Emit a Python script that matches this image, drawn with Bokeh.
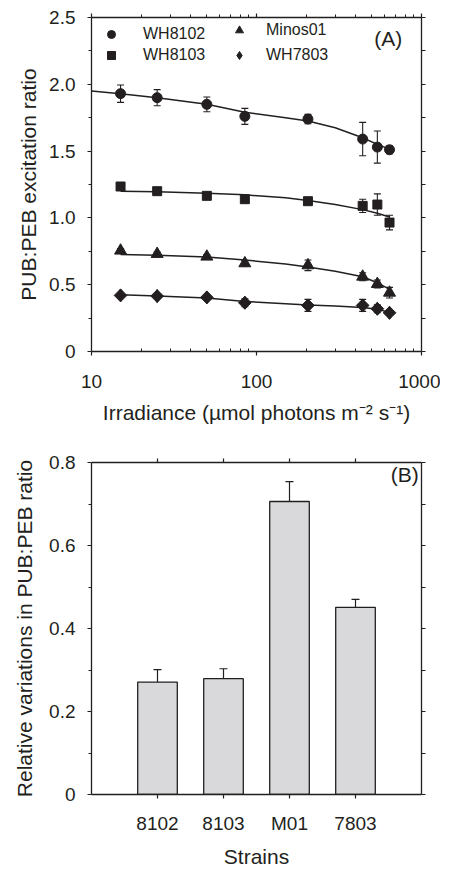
import math
from bokeh.plotting import figure
from bokeh.models import (ColumnDataSource, Whisker, TeeHead, FixedTicker, LinearAxis, LogAxis,
                          CategoricalAxis, CustomJSTickFormatter, Legend, LegendItem, Label,
                          FactorRange, Range1d)
from bokeh.layouts import column
from bokeh.embed import file_html
from bokeh.resources import INLINE

FONT = "Liberation Sans"
INK = "#231f20"

# ---------------- Panel A data ----------------
irradiance = [15, 25, 50, 85, 205, 440, 540, 640]
wh8102 = [1.93, 1.90, 1.85, 1.76, 1.74, 1.59, 1.53, 1.51]
wh8102_err = [0.065, 0.06, 0.055, 0.06, 0.035, 0.125, 0.12, 0.03]
wh8103 = [1.235, 1.20, 1.165, 1.14, 1.125, 1.09, 1.10, 0.965]
wh8103_err = [0.015, 0.015, 0.015, 0.02, 0.02, 0.05, 0.08, 0.055]
minos01 = [0.755, 0.73, 0.71, 0.66, 0.645, 0.56, 0.505, 0.44]
minos01_err = [0.015, 0.015, 0.015, 0.02, 0.04, 0.03, 0.03, 0.04]
wh7803 = [0.42, 0.415, 0.405, 0.365, 0.345, 0.345, 0.32, 0.29]
wh7803_err = [0.01, 0.01, 0.015, 0.03, 0.045, 0.045, 0.03, 0.015]

# fitted curves
fit8102_x = [10, 15, 25, 50, 85, 150, 205, 300, 440, 540, 640]
fit8102_y = [1.95, 1.93, 1.90, 1.85, 1.79, 1.75, 1.725, 1.675, 1.60, 1.55, 1.515]
fit_x = [15, 25, 50, 85, 150, 205, 300, 440, 540, 640]
fit8103_y = [1.20, 1.195, 1.185, 1.173, 1.15, 1.13, 1.10, 1.062, 1.035, 1.007]
fitminos_y = [0.726, 0.721, 0.707, 0.685, 0.655, 0.633, 0.60, 0.56, 0.515, 0.465]
fit7803_y = [0.425, 0.415, 0.40, 0.375, 0.358, 0.348, 0.34, 0.329, 0.316, 0.293]

x_major = [10, 100, 1000]
x_minor = [20, 30, 40, 50, 60, 70, 80, 90, 200, 300, 400, 500, 600, 700, 800, 900]
yA_major = [0, 0.5, 1.0, 1.5, 2.0, 2.5]
yA_minor = [0.25, 0.75, 1.25, 1.75, 2.25]

# ---------------- Panel B data ----------------
strains = ["8102", "8103", "M01", "7803"]
rel_var = [0.271, 0.279, 0.706, 0.451]
rel_var_err = [0.030, 0.024, 0.048, 0.019]
yB_major = [0, 0.2, 0.4, 0.6, 0.8]
yB_minor = [0.1, 0.3, 0.5, 0.7]

num_fmt = CustomJSTickFormatter(code="return tick == 0 ? '0' : tick.toFixed(1);")


def blank_fmt():
    return CustomJSTickFormatter(code="return '';")


def style_axis(ax, label_size="19px"):
    ax.axis_line_color = INK
    ax.axis_line_width = 1.3
    ax.major_tick_line_color = INK
    ax.minor_tick_line_color = INK
    ax.major_tick_line_width = 1.2
    ax.minor_tick_line_width = 1.0
    ax.major_label_text_font = FONT
    ax.major_label_text_font_size = label_size
    ax.major_label_text_color = INK
    ax.axis_label_text_font = FONT
    ax.axis_label_text_font_size = "21px"
    ax.axis_label_text_font_style = "normal"
    ax.axis_label_text_color = INK


# ================= Panel A =================
pA = figure(width=440, height=431, x_axis_type="log",
            x_range=Range1d(10, 1000), y_range=Range1d(0, 2.5),
            output_backend="svg", toolbar_location=None,
            min_border_left=86, min_border_right=19, min_border_top=17, min_border_bottom=80)
pA.grid.visible = False
pA.outline_line_color = None
pA.background_fill_color = "white"
pA.border_fill_color = "white"

xa = pA.xaxis[0]
xa.ticker = FixedTicker(ticks=x_major, minor_ticks=x_minor)
xa.formatter = CustomJSTickFormatter(code="return tick.toFixed(0);")
style_axis(xa)
xa.major_tick_out = 4
xa.major_tick_in = 0
xa.minor_tick_out = 0
xa.minor_tick_in = 3
xa.major_label_standoff = 19
xa.axis_label = "Irradiance (\u00b5mol photons m\u207b\u00b2 s\u207b\u00b9)"
xa.axis_label_standoff = 10

ya = pA.yaxis[0]
ya.ticker = FixedTicker(ticks=yA_major, minor_ticks=yA_minor)
ya.formatter = num_fmt
style_axis(ya)
ya.major_tick_out = 4
ya.major_tick_in = 0
ya.minor_tick_out = 3
ya.minor_tick_in = 0
ya.major_label_standoff = 12
ya.axis_label = "PUB:PEB excitation ratio"
ya.axis_label_standoff = 6

topA = LogAxis(ticker=FixedTicker(ticks=x_major, minor_ticks=x_minor), formatter=blank_fmt())
style_axis(topA, "1px")
topA.major_tick_out = 4
topA.major_tick_in = 0
topA.minor_tick_out = 3
topA.minor_tick_in = 0
topA.major_label_standoff = 0
pA.add_layout(topA, "above")

rightA = LinearAxis(ticker=FixedTicker(ticks=yA_major + yA_minor), formatter=blank_fmt())
style_axis(rightA, "1px")
rightA.major_tick_out = 4
rightA.major_tick_in = 0
rightA.major_label_standoff = 0
pA.add_layout(rightA, "right")

# fitted lines
pA.line(fit8102_x, fit8102_y, line_color=INK, line_width=1.5)
pA.line(fit_x, fit8103_y, line_color=INK, line_width=1.5)
pA.line(fit_x, fitminos_y, line_color=INK, line_width=1.5)
pA.line(fit_x, fit7803_y, line_color=INK, line_width=1.5)

series = [
    ("WH8102", wh8102, wh8102_err, "circle", 10, 0.0),
    ("WH8103", wh8103, wh8103_err, "square", 9, 0.0),
    ("Minos01", minos01, minos01_err, "triangle", 12, 0.0),
    ("WH7803", wh7803, wh7803_err, "square", 9, math.pi / 4),
]
legend_glyph = {}
for name, vals, errs, marker, size, ang in series:
    src = ColumnDataSource(dict(
        x=irradiance, y=vals,
        lo=[v - e for v, e in zip(vals, errs)],
        hi=[v + e for v, e in zip(vals, errs)],
    ))
    w = Whisker(source=src, base="x", lower="lo", upper="hi", dimension="height",
                line_color=INK, line_width=1.1,
                lower_head=TeeHead(size=7, line_color=INK, line_width=1.1),
                upper_head=TeeHead(size=7, line_color=INK, line_width=1.1))
    pA.add_layout(w)
    if ang:
        # diamond key for the legend (legend keys ignore rotation), hidden under the rotated squares
        legend_glyph[name] = pA.scatter("x", "y", source=src, marker="diamond", size=13,
                                        fill_color=INK, line_color=INK)
    r = pA.scatter("x", "y", source=src, marker=marker, size=size, angle=ang,
                   fill_color=INK, line_color=INK)
    legend_glyph.setdefault(name, r)

# legend: one small legend per entry, placed in screen px from the frame's bottom-left
legend_spots = [
    ("WH8102", (9, 306), 22),
    ("WH8103", (9, 285), 22),
    ("Minos01", (137, 310), 17),
    ("WH7803", (137, 285), 17),
]
for name, loc, standoff in legend_spots:
    pA.add_layout(Legend(items=[LegendItem(label=name, renderers=[legend_glyph[name]])],
                         location=loc, orientation="vertical",
                         padding=0, margin=0, spacing=0,
                         glyph_width=20, glyph_height=20, label_standoff=standoff,
                         label_text_font=FONT, label_text_font_size="16px",
                         label_text_color=INK,
                         border_line_color="white", background_fill_alpha=0))

pA.add_layout(Label(x=765, y=2.345, text="(A)", text_align="right", text_baseline="middle",
                    text_font=FONT, text_font_size="21px", text_color=INK))

# ================= Panel B =================
pB = figure(width=440, height=439,
            x_range=FactorRange(factors=strains, range_padding=0.5, range_padding_units="absolute"),
            y_range=Range1d(0, 0.8),
            output_backend="svg", toolbar_location=None,
            min_border_left=91, min_border_right=13, min_border_top=31, min_border_bottom=73)
pB.grid.visible = False
pB.outline_line_color = None
pB.background_fill_color = "white"
pB.border_fill_color = "white"

xb = pB.xaxis[0]
style_axis(xb)
xb.major_tick_out = 4
xb.major_tick_in = 0
xb.major_label_standoff = 14
xb.axis_label = "Strains"
xb.axis_label_standoff = 8

yb = pB.yaxis[0]
yb.ticker = FixedTicker(ticks=yB_major, minor_ticks=yB_minor)
yb.formatter = num_fmt
style_axis(yb)
yb.major_tick_out = 4
yb.major_tick_in = 0
yb.minor_tick_out = 3
yb.minor_tick_in = 0
yb.major_label_standoff = 12
yb.axis_label = "Relative variations in PUB:PEB ratio"
yb.axis_label_standoff = 10

topB = CategoricalAxis(formatter=blank_fmt())
style_axis(topB, "1px")
topB.major_tick_out = 4
topB.major_tick_in = 0
topB.major_label_standoff = 0
pB.add_layout(topB, "above")

rightB = LinearAxis(ticker=FixedTicker(ticks=yB_major + yB_minor), formatter=blank_fmt())
style_axis(rightB, "1px")
rightB.major_tick_out = 4
rightB.major_tick_in = 0
rightB.major_label_standoff = 0
pB.add_layout(rightB, "right")

srcB = ColumnDataSource(dict(
    x=strains, top=rel_var,
    hi=[v + e for v, e in zip(rel_var, rel_var_err)],
))
pB.vbar(x="x", top="top", width=0.6, source=srcB,
        fill_color="#d9d9db", line_color=INK, line_width=1.3)
pB.add_layout(Whisker(source=srcB, base="x", lower="top", upper="hi", dimension="height",
                      line_color=INK, line_width=1.2, lower_head=None,
                      upper_head=TeeHead(size=8, line_color=INK, line_width=1.2)))

pB.add_layout(Label(x=4.46, y=0.772, text="(B)", text_align="right", text_baseline="middle",
                    text_font=FONT, text_font_size="21px", text_color=INK))

layout = column(pA, pB)
open("out.html", "w").write(file_html(layout, INLINE))
